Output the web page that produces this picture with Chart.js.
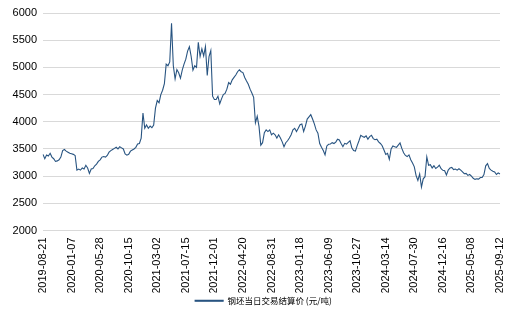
<!DOCTYPE html>
<html>
<head>
<meta charset="utf-8">
<script src="https://cdn.jsdelivr.net/npm/chart.js@4.4.1/dist/chart.umd.min.js"></script>
<style>
  html, body { margin: 0; padding: 0; background: #fff; }
  #wrap { width: 527px; height: 323px; }
</style>
</head>
<body>
<div id="wrap"><canvas id="priceChart" width="527" height="323"></canvas></div>
<script>
// tick labels along the x axis, one every 16 samples
const tickLabels = [
    '2019-08-21', '2020-01-07', '2020-05-28', '2020-10-15', '2021-03-02', '2021-07-15',
    '2021-12-01', '2022-04-20', '2022-08-31', '2023-01-18', '2023-06-09', '2023-10-27',
    '2024-03-14', '2024-07-30', '2024-12-16', '2025-05-08', '2025-09-12'
];
const samplesPerTick = 16;

// settlement price (yuan / ton)
const prices = [
    3400, 3320, 3390, 3370, 3420, 3350, 3320, 3270, 3280, 3300,
    3350, 3470, 3490, 3460, 3440, 3420, 3410, 3400, 3380, 3110,
    3130, 3110, 3150, 3130, 3200, 3150, 3050, 3130, 3140, 3190,
    3220, 3270, 3300, 3350, 3360, 3350, 3380, 3440, 3470, 3490,
    3510, 3530, 3500, 3540, 3520, 3500, 3410, 3385, 3400, 3460,
    3480, 3500, 3530, 3590, 3600, 3700, 4160, 3880, 3940, 3880,
    3920, 3890, 3940, 4250, 4390, 4350, 4500, 4580, 4700, 5060,
    5030, 5100, 5810, 5030, 4790, 4960, 4900, 4800, 4950, 5060,
    5150, 5300, 5380, 5200, 4950, 5030, 5000, 5460, 5200, 5340,
    5210, 5380, 4850, 5200, 5310, 4470, 4410, 4410, 4470, 4330,
    4420, 4500, 4520, 4600, 4720, 4690, 4770, 4815, 4860, 4920,
    4955, 4920, 4905, 4815, 4750, 4690, 4600, 4530, 4450, 3980,
    4100, 3915, 3570, 3615, 3800, 3850, 3820, 3850, 3760, 3790,
    3760, 3700, 3760, 3700, 3630, 3540, 3615, 3650, 3700, 3760,
    3850, 3880, 3820, 3880, 3945, 3960, 3820, 3920, 4050, 4090,
    4130, 4050, 3960, 3850, 3790, 3600, 3530, 3470, 3390, 3555,
    3585, 3590, 3615, 3600, 3625, 3680, 3665, 3600, 3541, 3603,
    3590, 3620, 3650, 3520, 3470, 3460, 3560, 3650, 3750, 3730,
    3715, 3740, 3680, 3727, 3750, 3690, 3670, 3680, 3630, 3600,
    3560, 3480, 3400, 3420, 3310, 3500, 3555, 3540, 3530, 3570,
    3610, 3510, 3430, 3380, 3360, 3390, 3300, 3240, 3170, 3010,
    2920, 3040, 2800, 2950, 2990, 3355, 3200, 3210, 3150, 3190,
    3140, 3165, 3200, 3137, 3106, 3100, 3020, 3110, 3150, 3160,
    3120, 3130, 3110, 3135, 3110, 3080, 3044, 3050, 3013, 3030,
    3000, 2960, 2940, 2950, 2945, 2975, 2975, 3030, 3190, 3230,
    3140, 3110, 3090, 3075, 3030, 3060, 3040
];
const seriesName = '钢坯当日交易结算价 (元/吨)';
const yMin = 2000, yMax = 6000, yStep = 500;

const labels = prices.map((p, i) => i % samplesPerTick === 0 ? tickLabels[i / samplesPerTick] : '');

const lineColor = '#285481';
const tickFont = { family: '"Liberation Sans", Arial, sans-serif', size: 11 };

new Chart(document.getElementById('priceChart').getContext('2d'), {
    type: 'line',
    data: {
        labels: labels,
        datasets: [{
            label: seriesName,
            data: prices,
            borderColor: lineColor,
            backgroundColor: lineColor,
            borderWidth: 1.1,
            pointRadius: 0,
            tension: 0,
            fill: false
        }]
    },
    options: {
        responsive: false,
        animation: false,
        devicePixelRatio: 1,
        layout: { padding: { top: 13, right: 0, bottom: 8, left: 0 } },
        plugins: {
            tooltip: { enabled: false },
            legend: {
                position: 'bottom',
                labels: {
                    boxWidth: 28,
                    boxHeight: 1,
                    padding: 4,
                    color: '#000',
                    font: { family: '"Noto Sans CJK SC", sans-serif', size: 8.5 }
                }
            }
        },
        scales: {
            x: {
                grid: { display: false, drawTicks: false },
                border: { display: false },
                ticks: {
                    autoSkip: false,
                    minRotation: 90,
                    maxRotation: 90,
                    padding: 7,
                    color: '#000',
                    font: tickFont,
                    callback: function(value) {
                        const l = this.getLabelForValue(value);
                        return l === '' ? null : l;
                    }
                },
                afterFit: function(scale) { scale.height = 62; }
            },
            y: {
                min: yMin,
                max: yMax,
                grid: { color: '#d9d9d9', lineWidth: 1, drawTicks: false },
                border: { display: false },
                ticks: {
                    stepSize: yStep,
                    padding: 6,
                    color: '#000',
                    font: tickFont,
                    callback: (v) => String(v)
                },
                afterFit: function(scale) { scale.width = 43; }
            },
            // empty right-hand gutter so the plot stops where the reference does
            yRight: {
                position: 'right',
                grid: { display: false, drawOnChartArea: false },
                border: { display: false },
                ticks: { display: false },
                afterFit: function(scale) { scale.width = 27; }
            }
        }
    }
});
</script>
</body>
</html>
